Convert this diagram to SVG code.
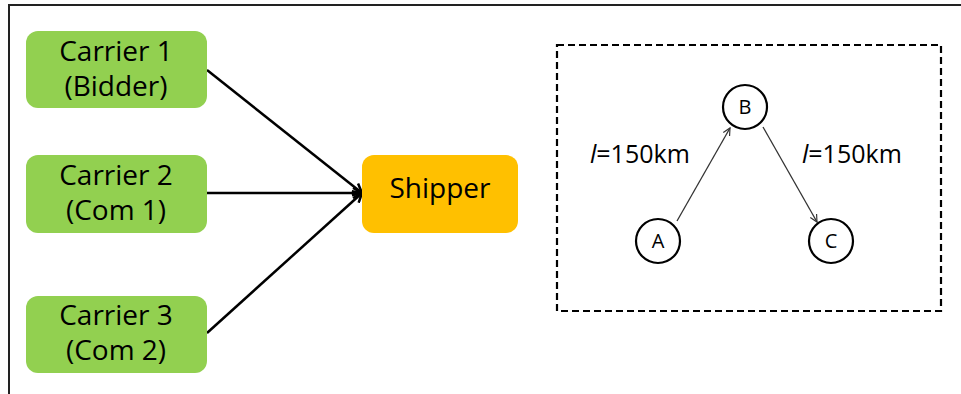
<svg xmlns="http://www.w3.org/2000/svg" width="961" height="394" viewBox="0 0 961 394">
  <defs>
    <marker id="head-bold" viewBox="0 0 12 12" refX="11" refY="6" markerWidth="12" markerHeight="12" markerUnits="userSpaceOnUse" orient="auto">
      <path d="M2,1 L11,6 L2,11" fill="none" stroke="#000" stroke-width="2.5"/>
    </marker>
    <marker id="head-thin" viewBox="0 0 10 10" refX="9" refY="5" markerWidth="9" markerHeight="9" markerUnits="userSpaceOnUse" orient="auto">
      <path d="M1,1 L9,5 L1,9" fill="none" stroke="#333" stroke-width="1.3"/>
    </marker>
  </defs>
  <style>
    .carrier { fill: #92d050; }
    .shipper { fill: #ffc000; }
    .label { font-family: "Open Sans", "Liberation Sans", sans-serif; font-size: 28px; fill: #000; text-anchor: middle; }
    .node { fill: #fff; stroke: #000; stroke-width: 2.2; }
    .nlabel { font-family: "Open Sans", "Liberation Sans", sans-serif; font-size: 20px; fill: #000; text-anchor: middle; }
    .dist { font-family: "Open Sans", "Liberation Sans", sans-serif; font-size: 25px; fill: #000; }
    .bold-edge { stroke: #000; stroke-width: 2.5; fill: none; marker-end: url(#head-bold); }
    .thin-edge { stroke: #333; stroke-width: 1.3; fill: none; marker-end: url(#head-thin); }
  </style>

  <rect width="961" height="394" fill="#fff"/>
  <!-- outer frame -->
  <path d="M9,394 V5 H961" fill="none" stroke="#222" stroke-width="2"/>

  <!-- connectors -->
  <g id="connectors">
    <line class="bold-edge" x1="207" y1="70" x2="362" y2="193"/>
    <line class="bold-edge" x1="207" y1="193" x2="362" y2="193"/>
    <line class="bold-edge" x1="207" y1="333" x2="362" y2="193"/>
    <line class="thin-edge" x1="677" y1="221" x2="730" y2="128"/>
    <line class="thin-edge" x1="763" y1="127" x2="817" y2="222"/>
  </g>

  <g id="carrier1">
    <rect class="carrier" x="26" y="31" width="181" height="77" rx="12"/>
    <text class="label" x="116" y="61">Carrier 1</text>
    <text class="label" x="116" y="96">(Bidder)</text>
  </g>
  <g id="carrier2">
    <rect class="carrier" x="26" y="155" width="181" height="78" rx="12"/>
    <text class="label" x="116" y="185">Carrier 2</text>
    <text class="label" x="116" y="220">(Com 1)</text>
  </g>
  <g id="carrier3">
    <rect class="carrier" x="26" y="296" width="181" height="77" rx="12"/>
    <text class="label" x="116" y="325">Carrier 3</text>
    <text class="label" x="116" y="360">(Com 2)</text>
  </g>
  <g id="shipper">
    <rect class="shipper" x="362" y="155" width="156" height="78" rx="12"/>
    <text class="label" x="440" y="198">Shipper</text>
  </g>

  <!-- inset: route example -->
  <g id="route-frame">
    <rect x="557" y="45" width="384" height="266" fill="none" stroke="#000" stroke-width="2.2" stroke-dasharray="7,4"/>
  </g>
  <g id="node-A">
    <circle class="node" cx="658" cy="241" r="22"/>
    <text class="nlabel" x="658" y="248">A</text>
  </g>
  <g id="node-B">
    <circle class="node" cx="745" cy="107" r="22"/>
    <text class="nlabel" x="745" y="114">B</text>
  </g>
  <g id="node-C">
    <circle class="node" cx="831" cy="241" r="22"/>
    <text class="nlabel" x="831" y="248">C</text>
  </g>
  <g id="edge-labels">
    <text class="dist" x="590" y="163"><tspan font-style="italic">l</tspan>=150km</text>
    <text class="dist" x="802" y="163"><tspan font-style="italic">l</tspan>=150km</text>
  </g>
</svg>
